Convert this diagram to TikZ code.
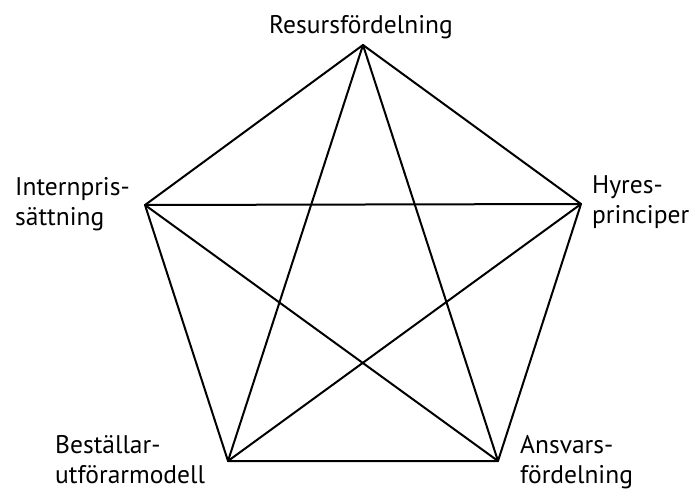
\documentclass[tikz,border=0pt]{standalone}
\usepackage{fontspec}
\setmainfont{PT Sans}
\begin{document}
\begin{tikzpicture}[x=1pt,y=-1pt,
  edge/.style={line width=2pt,line cap=round,line join=round},
  lbl/.style={inner sep=0pt,font=\fontsize{25.5}{30}\selectfont,align=left}]
\useasboundingbox (0,0) rectangle (697,491);
\coordinate (T) at (363,45);
\coordinate (R) at (581,204);
\coordinate (BR) at (498,461);
\coordinate (BL) at (228,461);
\coordinate (L) at (145,205);
\draw[edge] (T) -- (R) -- (BR) -- (BL) -- (L) -- cycle;
\draw[edge] (T) -- (BL);
\draw[edge] (T) -- (BR);
\draw[edge] (L) -- (R);
\draw[edge] (L) -- (BR);
\draw[edge] (R) -- (BL);
\node[lbl,anchor=base] (tRes) at (361,33) {Resursfördelning};
\node[lbl,anchor=base west] (tInt) at (15,225) {Internpris-\\sättning};
\node[lbl,anchor=base west] (tHyr) at (592,223) {Hyres-\\principer};
\node[lbl,anchor=base west] (tBes) at (55,483) {Beställar-\\utförarmodell};
\node[lbl,anchor=base west] (tAns) at (520,483) {Ansvars-\\fördelning};
\end{tikzpicture}
\end{document}
